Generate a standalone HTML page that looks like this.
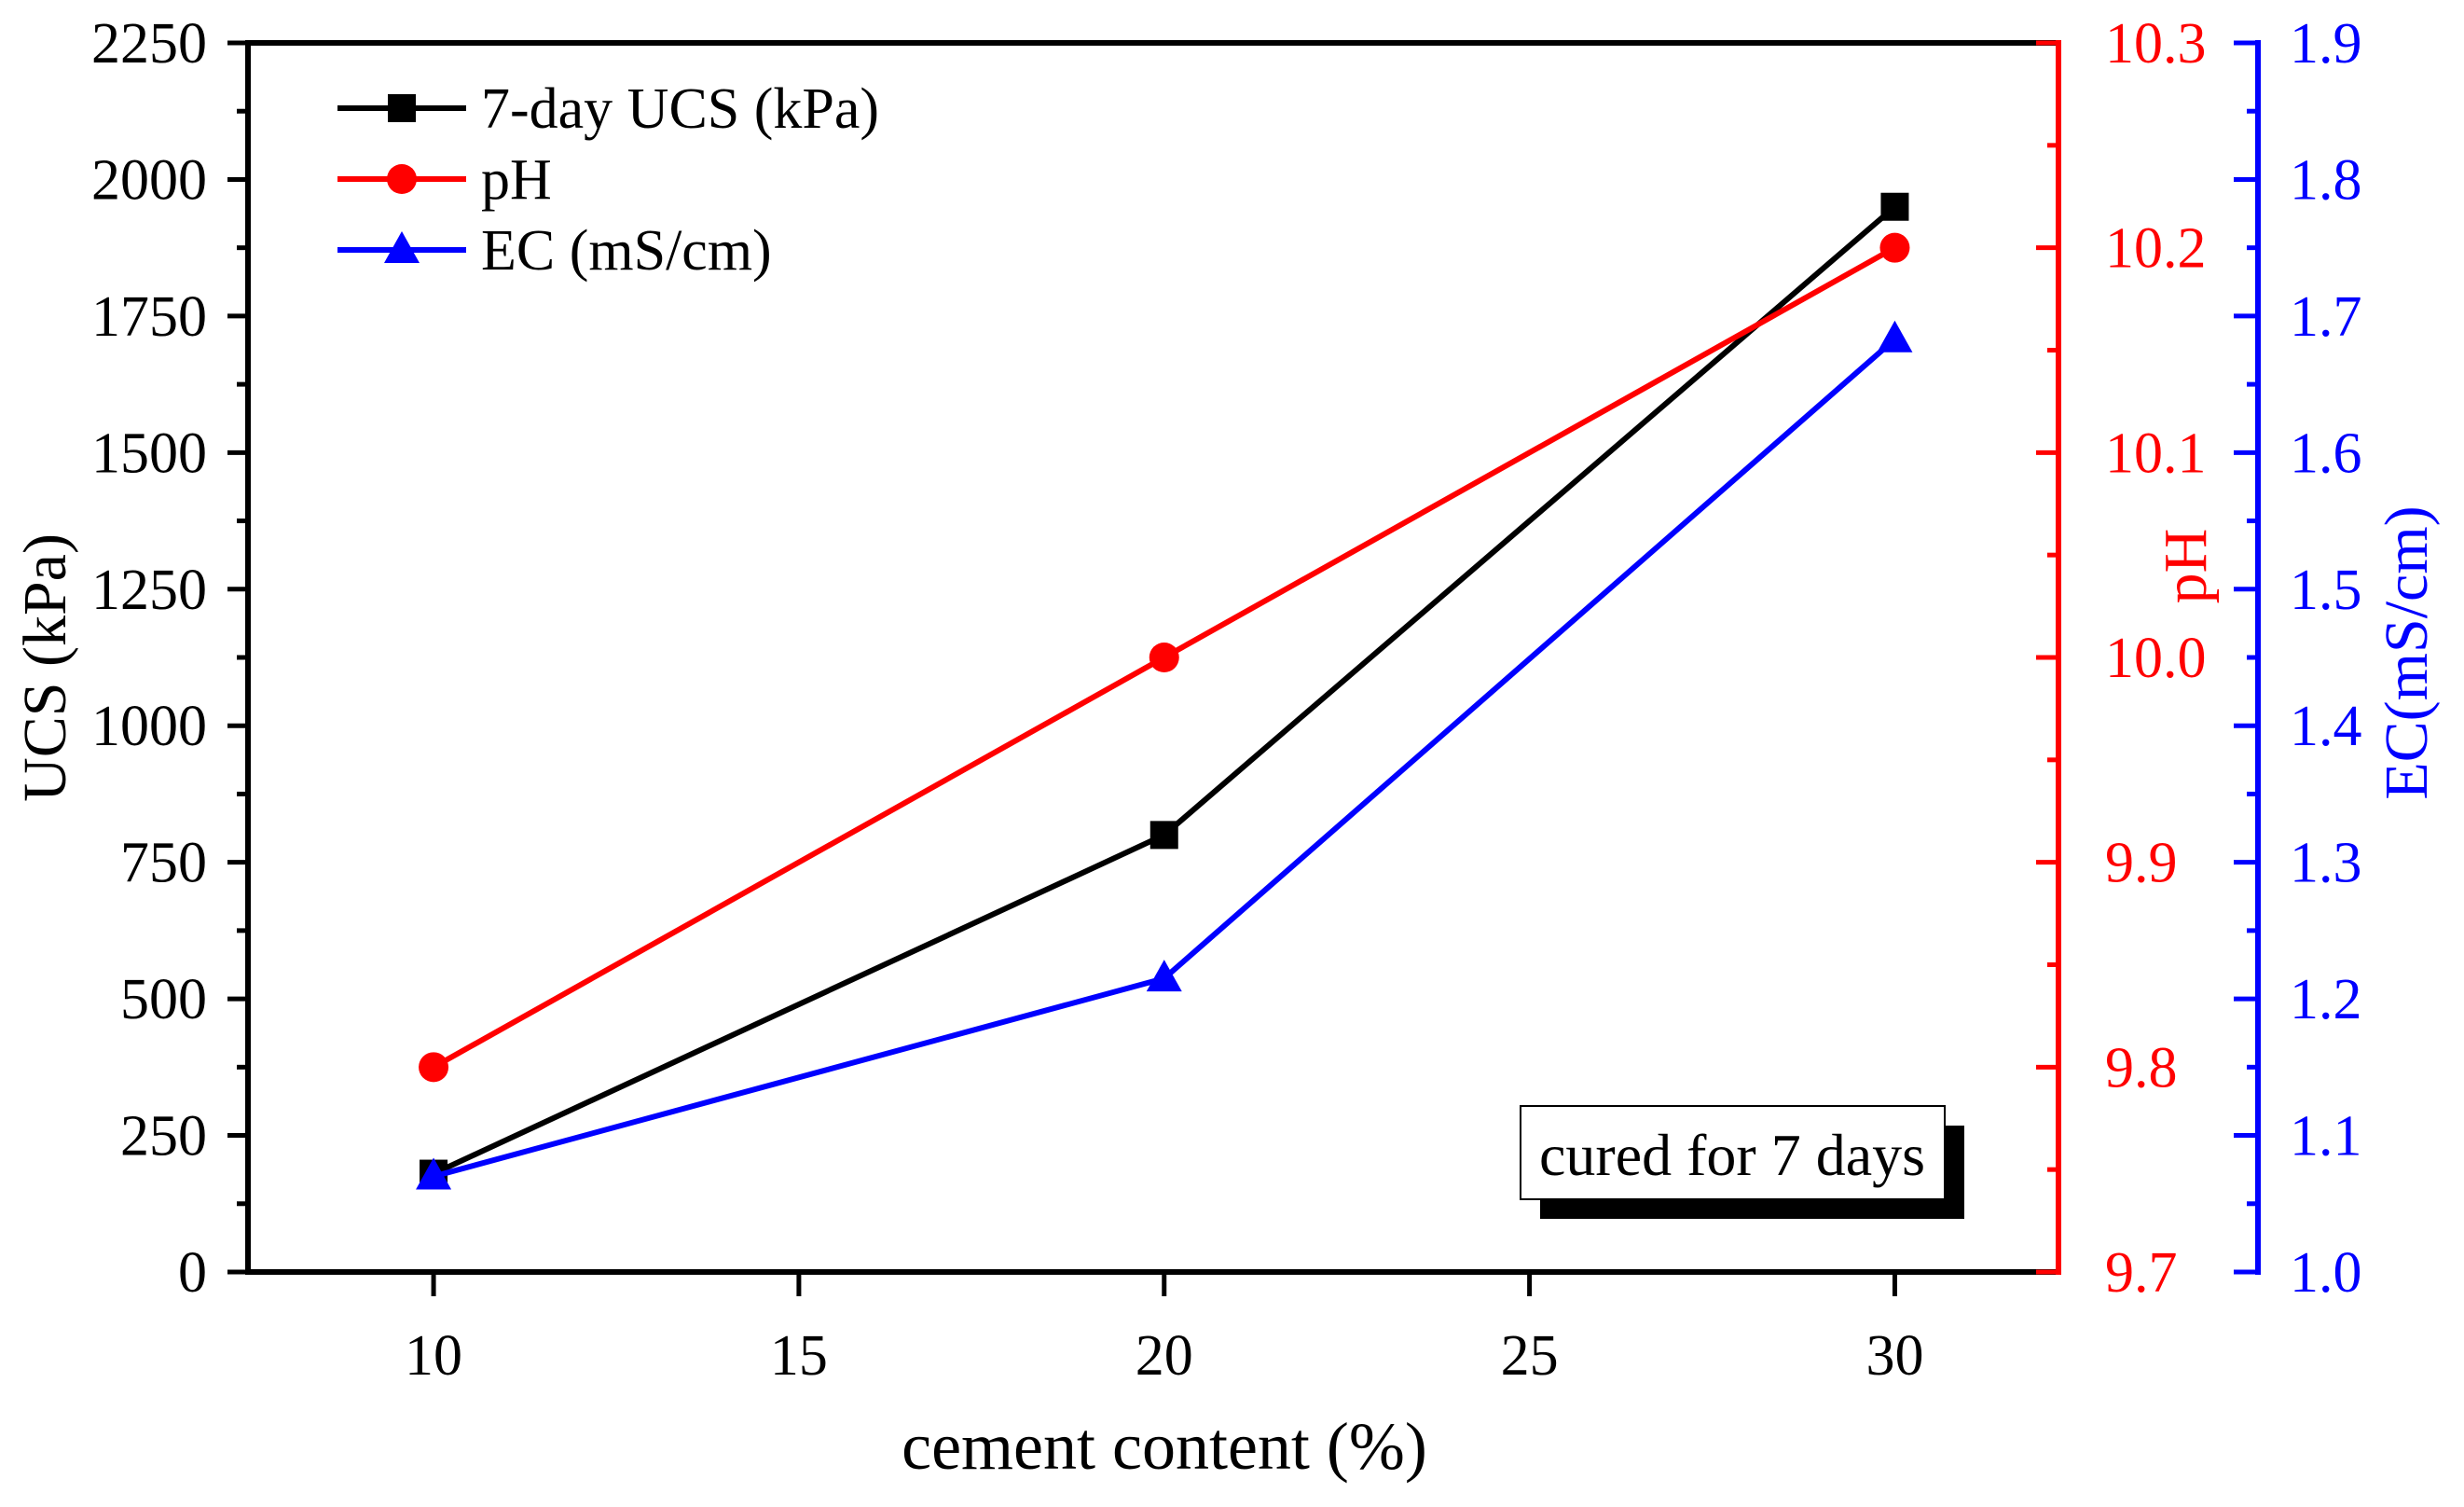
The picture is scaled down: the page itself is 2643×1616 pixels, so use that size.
<!DOCTYPE html>
<html><head><meta charset="utf-8"><style>
body{margin:0;background:#fff}
svg text{font-family:"Liberation Serif",serif}
</style></head><body>
<svg id="chart" width="2643" height="1611" xmlns="http://www.w3.org/2000/svg"></svg>
<script>
const xCats=[10,20,30];
const ucsValues=[180,800,1950];
const phValues=[9.8,10.0,10.2];
const ecValues=[1.07,1.215,1.683];
const xTicks=[10,15,20,25,30];
const ucsTicks=[0,250,500,750,1000,1250,1500,1750,2000,2250];
const phTicks=["9.7","9.8","9.9","10.0","10.1","10.2","10.3"];
const ecTicks=["1.0","1.1","1.2","1.3","1.4","1.5","1.6","1.7","1.8","1.9"];

const L=266,R=2208,B2=2422,T=46,Bt=1364;
const XMIN=7.46,XMAX=32.24;
const FF='Liberation Serif, serif';
const sx=v=>L+(v-XMIN)/(XMAX-XMIN)*(R-L);
const sy1=v=>Bt-(v/2250)*(Bt-T);
const sy2=v=>Bt-((v-9.7)/0.6)*(Bt-T);
const sy3=v=>Bt-((v-1.0)/0.9)*(Bt-T);
const svg=document.getElementById('chart');
const NS="http://www.w3.org/2000/svg";
function el(tag,attrs,parent){const e=document.createElementNS(NS,tag);for(const k in attrs)e.setAttribute(k,attrs[k]);(parent||svg).appendChild(e);return e;}
function txt(s,attrs){attrs['font-family']=FF;const e=el('text',attrs);e.textContent=s;return e;}

let e;
e=el('line',{x1:L,y1:T,x2:R,y2:T,stroke:'#000','stroke-width':6});


e=el('line',{x1:L,y1:Bt,x2:R,y2:Bt,stroke:'#000','stroke-width':6});


e=el('line',{x1:L,y1:T-3,x2:L,y2:Bt+3,stroke:'#000','stroke-width':6});


e=el('line',{x1:R,y1:T-3,x2:R,y2:Bt+3,stroke:'#f00','stroke-width':6});


e=el('line',{x1:B2,y1:T-3,x2:B2,y2:Bt+3,stroke:'#00f','stroke-width':6});



xTicks.forEach(v=>{
 const x=sx(v);
 el('line',{x1:x,y1:Bt,x2:x,y2:Bt+26,stroke:'#000','stroke-width':5});
 e=txt(String(v),{x:x,y:Bt+110,'font-size':62,'text-anchor':'middle',fill:'#000'});
 
 
});
ucsTicks.forEach((v,i)=>{
 const y=sy1(v);
 el('line',{x1:L,y1:y,x2:L-22,y2:y,stroke:'#000','stroke-width':5});
 if(i<ucsTicks.length-1){const ym=sy1(v+125);el('line',{x1:L,y1:ym,x2:L-12,y2:ym,stroke:'#000','stroke-width':5});}
 e=txt(String(v),{x:L-44,y:y+21,'font-size':62,'text-anchor':'end',fill:'#000'});
 
 
});
phTicks.forEach((s,i)=>{
 const v=parseFloat(s),y=sy2(v);
 el('line',{x1:R,y1:y,x2:R-24,y2:y,stroke:'#f00','stroke-width':5});
 if(i<phTicks.length-1){const ym=sy2(v+0.05);el('line',{x1:R,y1:ym,x2:R-12,y2:ym,stroke:'#f00','stroke-width':5});}
 e=txt(s,{x:R+50,y:y+21,'font-size':62,fill:'#f00'});
 
 
});
ecTicks.forEach((s,i)=>{
 const v=parseFloat(s),y=sy3(v);
 el('line',{x1:B2,y1:y,x2:B2-26,y2:y,stroke:'#00f','stroke-width':5});
 if(i<ecTicks.length-1){const ym=sy3(v+0.05);el('line',{x1:B2,y1:ym,x2:B2-12,y2:ym,stroke:'#00f','stroke-width':5});}
 e=txt(s,{x:B2+34,y:y+21,'font-size':62,fill:'#00f'});
 
 
});
e=txt('cement content (%)',{x:1249,y:1575,'font-size':72,'text-anchor':'middle',fill:'#000'});


e=txt('UCS (kPa)',{x:0,y:0,'font-size':66,'text-anchor':'middle',fill:'#000',transform:'translate(70,716) rotate(-90)'});


e=txt('pH',{x:0,y:0,'font-size':66,'text-anchor':'middle',fill:'#f00',transform:'translate(2366,607) rotate(-90)'});


e=txt('EC(mS/cm)',{x:0,y:0,'font-size':66,'text-anchor':'middle',fill:'#00f',transform:'translate(2603,700) rotate(-90)'});



function marker(type,x,y,color){
 if(type==='sq')return el('rect',{x:x-15,y:y-15,width:30,height:30,fill:color});
 if(type==='ci')return el('circle',{cx:x,cy:y,r:16,fill:color});
 return el('polygon',{points:`${x},${y-20} ${x-19},${y+14} ${x+19},${y+14}`,fill:color});
}
function series(vals,sy,color,type,name){
 const pts=vals.map((v,i)=>[sx(xCats[i]),sy(v)]);
 e=el('polyline',{points:pts.map(p=>p.join(',')).join(' '),fill:'none',stroke:color,'stroke-width':6});
 
 
 pts.forEach(p=>{e=marker(type,p[0],p[1],color);
  
  });
}
series(ucsValues,sy1,'#000','sq','ucs');
series(phValues,sy2,'#f00','ci','ph');
series(ecValues,sy3,'#00f','tr','ec');

const leg=[['7-day UCS (kPa)','#000','sq',116],['pH','#f00','ci',192],['EC (mS/cm)','#00f','tr',268]];
leg.forEach(l=>{
 el('line',{x1:362,y1:l[3],x2:500,y2:l[3],stroke:l[1],'stroke-width':6});
 marker(l[2],431,l[3],l[1]);
 e=txt(l[0],{x:516,y:l[3]+21,'font-size':62,fill:'#000'});
 
 
});
e=el('rect',{x:1652,y:1207,width:455,height:100,fill:'#000'});


e=el('rect',{x:1631,y:1186,width:455,height:100,fill:'#fff',stroke:'#000','stroke-width':2});


e=txt('cured for 7 days',{x:1858,y:1260,'font-size':64,'text-anchor':'middle',fill:'#000'});


</script>
</body></html>
